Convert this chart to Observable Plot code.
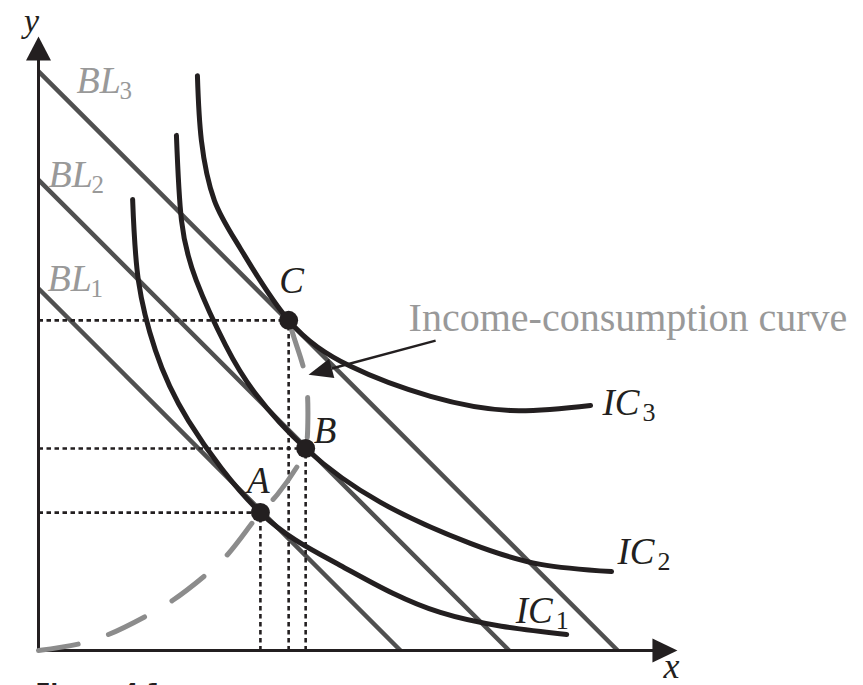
<!DOCTYPE html>
<html><head><meta charset="utf-8">
<script src="https://cdn.jsdelivr.net/npm/d3@7"></script>
<script src="https://cdn.jsdelivr.net/npm/@observablehq/plot@0.6"></script>
<style>html,body{margin:0;padding:0;overflow:hidden;background:#fff}</style>
</head><body><div id="chart"></div>
<script>
// ---- data (units of goods x and y) ----
const budgetIncomes = [10, 13, 16];
const budgetSubs = ["1", "2", "3"];

const ic1X = [2.60, 2.76, 3.23, 4.14, 6.13, 8.34, 11.10, 14.59];
const ic1Y = [12.46, 10.22, 8.29, 6.35, 3.81, 2.35, 1.05, 0.44];
const ic2X = [3.81, 3.95, 4.36, 5.17, 5.99, 7.38, 9.45, 11.93, 13.87, 15.83];
const ic2Y = [14.23, 11.88, 10.22, 8.43, 7.10, 5.58, 4.09, 2.96, 2.38, 2.18];
const ic3X = [4.39, 4.50, 4.86, 5.58, 6.91, 8.62, 10.83, 13.04, 15.25];
const ic3Y = [15.88, 14.09, 12.43, 11.10, 9.12, 7.85, 7.02, 6.63, 6.77];

const iccX = [0, 1.16, 1.93, 3.01, 3.70, 4.67, 5.25, 6.13, 6.60, 7.21, 7.38, 7.44, 7.38, 7.04, 6.91];
const iccY = [0, 0.19, 0.44, 0.97, 1.38, 2.13, 2.68, 3.81, 4.31, 5.19, 5.58, 6.30, 7.54, 8.70, 9.12];

const pointNames = ["A", "B", "C"];
const pointX = [6.13, 7.38, 6.91];
const pointY = [3.81, 5.58, 9.12];

const axisMaxX = 17.65, axisMaxY = 16.96;
const arrowFrom = [10.97, 8.56];
const arrowTo = [7.46, 7.62];
const iccLabel = "Income-consumption curve";
const figureLabel = "Figure 4.1";

// ---- layout ----
const W = 863, H = 685, S = 36.2, X0 = 38, Y0 = 650;
const serif = "'Liberation Serif', 'Times New Roman', serif";
const ink = "#231f20", blColor = "#505050", lightGray = "#999999", iccColor = "#8c8c8c";

const toRows = (xs, ys) => xs.map((x, i) => ({x, y: ys[i]}));
const ics = [
  {name: "1", rows: toRows(ic1X, ic1Y)},
  {name: "2", rows: toRows(ic2X, ic2Y)},
  {name: "3", rows: toRows(ic3X, ic3Y)}
];
const icc = toRows(iccX, iccY);
const points = pointNames.map((n, i) => ({n, x: pointX[i], y: pointY[i]}));
const budgets = budgetIncomes.map((m, i) => ({m, sub: budgetSubs[i]}));

// filled triangular arrowhead, tip at the vector's end
const tri = (w) => ({draw(ctx, l) { ctx.moveTo(0, -l); ctx.lineTo(-w / 2, 0); ctx.lineTo(w / 2, 0); ctx.closePath(); }});

// annotation arrow geometry
const adx = (arrowTo[0] - arrowFrom[0]) * S, ady = -(arrowTo[1] - arrowFrom[1]) * S;
const alen = Math.hypot(adx, ady);
const arot = Math.atan2(adx, -ady) * 180 / Math.PI;
const aHead = 24;
const aBase = [arrowTo[0] - (adx / alen) * aHead / S, arrowTo[1] + (ady / alen) * aHead / S];

function label(main, sub, x, y, dx, dy, opts = {}) {
  const size = opts.size || 37, subSize = opts.subSize || 26, anchor = opts.anchor || "start";
  const fill = opts.fill || ink, mainW = opts.mainW || 0;
  const marks = [Plot.text([{x, y}], {x: "x", y: "y", text: () => main, dx, dy,
    fontFamily: serif, fontStyle: "italic", fontSize: size, fill, textAnchor: anchor, lineAnchor: "bottom"})];
  if (sub) marks.push(Plot.text([{x, y}], {x: "x", y: "y", text: () => sub, dx: dx + mainW, dy: dy + 6,
    fontFamily: serif, fontSize: subSize, fill, textAnchor: "start", lineAnchor: "bottom"}));
  return marks;
}

const icLabelOffsets = [[-51, -12], [6, -8], [12, 10]];
const blLabelOffsets = [[9, 2], [10, 7], [38, 22]];
const ptLabelOffsets = {A: [-2, -20, "middle"], B: [8, -6, "start"], C: [3, -27, "middle"]};

const marks = [
  // budget lines
  Plot.link(budgets, {x1: 0, y1: "m", x2: "m", y2: 0, stroke: blColor, strokeWidth: 4.5}),
  // dotted guides
  Plot.link(points, {x1: 0, y1: "y", x2: "x", y2: "y", stroke: ink, strokeWidth: 2.6, strokeDasharray: "4.5,3.5"}),
  Plot.link(points, {x1: "x", y1: 0, x2: "x", y2: "y", stroke: ink, strokeWidth: 2.6, strokeDasharray: "4.5,3.5"}),
  // axes
  Plot.link([0], {x1: 0, y1: 0, x2: 0, y2: axisMaxY - 12 / S, stroke: ink, strokeWidth: 3}),
  Plot.link([0], {x1: 0, y1: 0, x2: axisMaxX - 12 / S, y2: 0, stroke: ink, strokeWidth: 3}),
  Plot.vector([{x: 0, y: axisMaxY}], {x: "x", y: "y", length: 24, rotate: 0, anchor: "end", shape: tri(25), fill: ink, stroke: "none"}),
  Plot.vector([{x: axisMaxX, y: 0}], {x: "x", y: "y", length: 25, rotate: 90, anchor: "end", shape: tri(24), fill: ink, stroke: "none"}),
  // income-consumption curve
  Plot.line(icc, {x: "x", y: "y", curve: "catmull-rom", stroke: iccColor, strokeWidth: 5, strokeDasharray: "40,32", strokeLinecap: "round"}),
  // indifference curves
  ...ics.map(c => Plot.line(c.rows, {x: "x", y: "y", curve: "natural", stroke: ink, strokeWidth: 5, strokeLinecap: "round"})),
  // points
  Plot.dot(points, {x: "x", y: "y", r: 9.5, fill: ink, stroke: "none"}),
  // annotation arrow
  Plot.link([0], {x1: arrowFrom[0], y1: arrowFrom[1], x2: aBase[0], y2: aBase[1], stroke: ink, strokeWidth: 2.5}),
  Plot.vector([{x: arrowTo[0], y: arrowTo[1]}], {x: "x", y: "y", length: aHead, rotate: arot, anchor: "end", shape: tri(20), fill: ink, stroke: "none"}),
  Plot.text([{x: arrowFrom[0], y: arrowFrom[1]}], {x: "x", y: "y", text: () => iccLabel, dx: -27, dy: -10,
    fontFamily: serif, fontSize: 40, fill: lightGray, textAnchor: "start", lineAnchor: "bottom"}),
  // axis labels
  ...label("y", null, 0, axisMaxY, -7, -5, {anchor: "middle", size: 34}),
  ...label("x", null, axisMaxX, 0, -6, 27, {anchor: "middle", size: 36}),
  // budget labels
  ...budgets.flatMap((b, i) => label("BL", b.sub, 0, b.m, blLabelOffsets[i][0], blLabelOffsets[i][1], {size: 38, subSize: 25, fill: lightGray, mainW: 43})),
  // IC labels
  ...ics.flatMap((c, i) => { const e = c.rows[c.rows.length - 1]; return label("IC", c.name, e.x, e.y, icLabelOffsets[i][0], icLabelOffsets[i][1], {size: 37, subSize: 26, mainW: 40}); }),
  // point labels
  ...points.flatMap(p => { const o = ptLabelOffsets[p.n]; return label(p.n, null, p.x, p.y, o[0], o[1], {anchor: o[2], size: 37}); }),
  // figure caption (cut at bottom edge, as in the source)
  Plot.text([{x: 0, y: 0}], {x: "x", y: "y", text: () => figureLabel, dx: -3, dy: 48, fontFamily: "'DejaVu Sans', sans-serif",
    fontWeight: "bold", fontSize: 22, fill: ink, textAnchor: "start", lineAnchor: "bottom"})
];

const chart = Plot.plot({
  width: W, height: H,
  marginTop: 0, marginRight: 0, marginBottom: 0, marginLeft: 0,
  x: {domain: [-X0 / S, (W - X0) / S], axis: null},
  y: {domain: [-(H - Y0) / S, Y0 / S], axis: null},
  style: {background: "#fff", overflow: "hidden"},
  marks
});
document.getElementById("chart").appendChild(chart);
</script>
</body></html>
